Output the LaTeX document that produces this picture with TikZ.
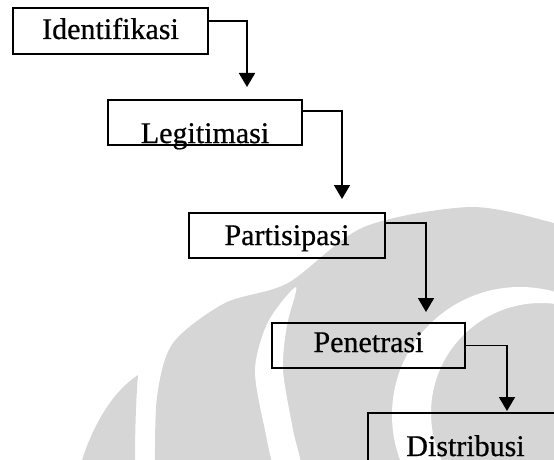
\documentclass[tikz,border=0pt]{standalone}
\usepackage{fontspec}
\setmainfont{Liberation Serif}
\newfontfamily\boxfont[FakeBold=0.6]{Liberation Serif}
\usetikzlibrary{arrows.meta}
\definecolor{wmgray}{RGB}{214,214,214}

\begin{document}
\begin{tikzpicture}[x=1pt,y=-1pt,
	box/.style={draw, rectangle, line width=2pt, inner sep=0pt, font=\boxfont\fontsize{30}{34}\selectfont},
	flow/.style={line width=1.8pt, -{Triangle[width=16pt,length=14pt]}}]
	\useasboundingbox (0,0) rectangle (554,460);
	\clip (0,0) rectangle (554,460);
	% watermark in the background
	\fill[wmgray] (82,460) .. controls (95,420) and (115,390) .. (138,375) .. controls (136,400) and (135,430) .. (135,460) -- cycle;
	\fill[wmgray] plot[smooth] coordinates {(155,470) (157,397) (173,343) (225,303) (288,283) (364,227) (471,207) (554,223) (570,230)} -- (570,470) -- cycle;
	\fill[white] plot[smooth cycle] coordinates {(296,287) (268,322) (255,370) (265,430) (276,470) (301,470) (293,430) (283,370) (287,325)};
	\fill[white, even odd rule] (520,415) circle (128pt) (541,413) circle (110pt);
	% boxes
	\node (idn) at (110.5,31)  [box, minimum width=195pt, text height=31pt, text depth=15pt] {Identifikasi\hspace{16pt}};
	\node (leg) at (205,122.5) [box, minimum width=194pt, text height=43pt, text depth=2pt]  {Legitimasi\hspace{8pt}};
	\node (par) at (287,235.5) [box, minimum width=196pt, text height=32pt, text depth=13pt] {Partisipasi};
	\node (pen) at (368.5,345.5) [box, minimum width=193pt, text height=29pt, text depth=16pt] {Penetrasi\hspace{6pt}};
	\node (dis) at (465.5,438) [box, minimum width=195pt, text height=43pt, text depth=7pt]  {Distribusi\hspace{10pt}};
	% connectors
	\draw[flow] ([yshift=10pt]idn.east) -| ([xshift=42pt,yshift=12pt]leg.north);
	\draw[flow] ([yshift=11.5pt]leg.east) -| ([xshift=55pt,yshift=13pt]par.north);
	\draw[flow] ([yshift=12.5pt]par.east) -| ([xshift=57.5pt,yshift=10pt]pen.north);
	\draw[flow] (pen.east) -| ([xshift=41.5pt,yshift=1pt]dis.north);
\end{tikzpicture}
\end{document}
